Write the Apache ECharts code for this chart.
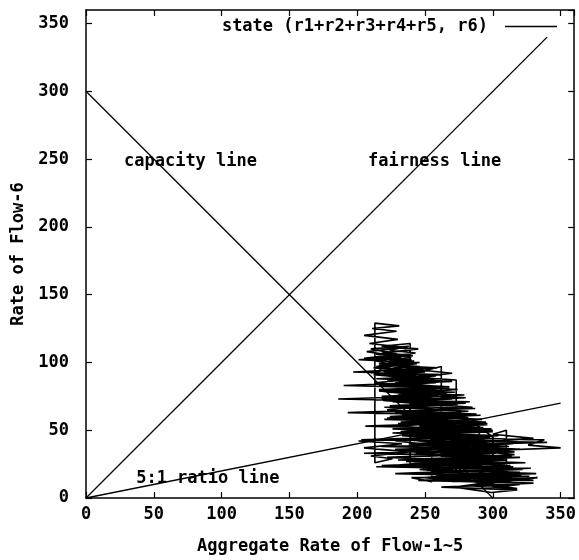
<!DOCTYPE html>
<html>
<head>
<meta charset="utf-8">
<script src="https://cdn.jsdelivr.net/npm/echarts@6/dist/echarts.min.js"></script>
<style>
html,body{margin:0;padding:0;background:#fff;}
#chart{width:579px;height:560px;}
</style>
</head>
<body>
<div id="chart"></div>
<script>
// ---- data ----
const xAxisTitle = 'Aggregate Rate of Flow-1~5';
const yAxisTitle = 'Rate of Flow-6';
const stateName = 'state (r1+r2+r3+r4+r5, r6)';
const tickValues = [0, 50, 100, 150, 200, 250, 300, 350];

const capacityLine = [[0, 300], [300, 0]];
const fairnessLine = [[0, 0], [340, 340]];
const ratioLine = [[0, 0], [350, 70]];

const lineLabels = [
  { name: 'capacity line', value: [28, 248] },
  { name: 'fairness line', value: [208, 248] },
  { name: '5:1 ratio line', value: [37, 14] }
];

// state trajectory (r1+...+r5, r6)
const statePoints = [
  [210,92],[232,97],[214,101],[233,104],[207,108],[236,111],[209,114],[230,117],[205,120],[229,123],
  [211,125],[231,127],[213,129],[213,26],[226,29],[210,31],[238,34],[205,37],[233,40],[201,42],
  [239,44],[239,114],[218,112],[245,110],[221,107],[241,105],
  [201,102],[246,100],[216,98],[259,96],[197,93],[262,91],[219,88],[270,86],[190,83],[268,81],
  [222,78],[279,76],[186,73],[283,71],[224,68],[287,66],[193,63],[291,61],[220,58],[295,56],
  [206,53],[299,51],[226,48],[304,46],[203,43],[340,41],[218,38],[310,36],[205,33],[314,31],
  [230,28],[318,26],[214,23],[322,21],[236,18],[327,16],[245,13],[330,11],[262,8],[318,6],[299,4],
  [272,8],[300,12],[262,14],[296,17],[255,20],[292,24],[248,27],[288,30],[243,33],[284,37],
  [238,40],[280,43],[233,46],[276,50],[229,53],[272,56],[226,59],[268,62],[222,65],[262,69],
  [219,72],[256,75],[216,79],[251,82],[213,85],[245,88],[212,91],[239,94],[214,97],[239,100],
  [239,25],[262,27],[226,24],[262,22],[262,97],[250,94],[270,92],[244,89],[273,87],[273,13],
  [250,15],[285,18],[246,21],[290,24],
  [236,28],[306,31],[240,35],[303,38],[244,42],[298,45],[236,48],[293,52],[241,55],[287,58],
  [233,61],[282,64],[238,67],[276,70],[230,73],[270,76],[235,79],[264,82],[228,85],[258,88],
  [232,91],[250,94],
  [225,90],[266,86],[221,83],[274,80],[230,77],[280,74],[226,71],[285,67],[234,64],[290,61],
  [229,58],[296,55],[240,52],[300,49],[235,46],[326,43],[338,43],[326,39],[350,37],[298,35],
  [246,33],[308,30],[240,27],[313,24],[253,21],[320,19],[258,16],[326,14],[270,12],[333,15],
  [282,9],[318,7],[290,11],
  [290,50],[265,48],[289,46],[254,43],[300,40],[257,37],[305,34],[262,31],[310,28],[252,25],
  [316,22],[266,19],[321,17],[275,14],[300,14],[300,45],[280,60],[250,58],[283,56],[246,53],
  [288,50],[249,47],[295,44],[255,41],[302,38],[228,36],[296,33],[222,30],[300,27],[218,24],
  [305,21],[228,18],[312,16],[240,15],[255,12],[255,60],
  [232,62],[262,65],[225,68],[270,70],[218,73],[260,76],[227,79],[266,81],[220,84],[252,86],
  [229,88],[256,91],[222,93],[244,96],[226,99],[240,102],[220,104],[243,107],[224,109],[238,112],
  [210,110],[230,106],[205,103],[228,100],[216,95],[235,88],[248,78],[248,40],[228,42],[270,45],
  [232,49],[274,52],[236,55],[279,57],[224,60],[276,63],
  [276,20],[300,22],[268,25],[306,27],[280,30],[316,32],[296,34],[320,36],[285,38],[315,40],
  [304,42],[330,44],[300,47],[310,50],[310,12],[292,15],[325,18],[280,20],[315,23],[275,26],
  [300,28],[300,8],[320,10],[296,13],[330,13],
  [262,15],[318,17],[255,19],[312,21],[250,23],[309,25],[236,27],[306,29],[242,31],[302,33],
  [232,35],[299,37],[238,39],[296,41],[228,43],[292,45],[234,47],[290,49],[226,51],[286,53],
  [230,55],[283,57],[222,59],[280,61],[228,63],[277,65],[220,67],[274,69],[226,71],[270,73],
  [218,75],[266,77],[224,79],[262,81],[216,83],[258,85],[222,87],[254,89],[214,91],[250,93],
  [220,95],[246,97],[216,99],[242,101],[212,103],[238,105],[218,107],[236,109],
  [214,106],[240,104],[224,101],[244,99],[212,96],[252,94],[226,92],[258,90],[214,88],[262,86],
  [230,84],[268,82],[216,80],[272,78],[236,76],[276,74],[220,72],[280,70],[240,68],[284,66],
  [226,64],[288,62],[244,60],[292,58],[232,56],[296,54],[250,52],[300,50],[238,48],[304,46],
  [256,44],[308,42],[244,40],[312,38],[262,36],[316,34],[250,32],[320,30],[268,28],[324,26],
  [256,24],[328,22],[274,20],[332,18],[262,16],[320,14],[284,12],[305,10]
];

// ---- chart ----
const FONT = '"DejaVu Sans Mono", "Liberation Mono", monospace';
const INK = '#000';
const chart = echarts.init(document.getElementById('chart'), null, { renderer: 'canvas' });

function axisCommon(extra) {
  return Object.assign({
    type: 'value', min: 0, max: 360, interval: 50,
    splitLine: { show: false },
    axisLine: { show: true, onZero: false, lineStyle: { color: '#000', width: 1.5 } },
    axisTick: { show: true, inside: true, length: 6, lineStyle: { color: '#000', width: 1.2 } }
  }, extra);
}

const labelFmt = v => (tickValues.indexOf(v) >= 0 ? String(v) : '');

chart.setOption({
  animation: false,
  backgroundColor: '#fff',
  grid: { left: 86, right: 3, top: 10, bottom: 59, containLabel: false },
  legend: {
    data: [stateName],
    right: 22, top: 18, padding: 0,
    align: 'right', icon: 'rect', itemWidth: 52, itemHeight: 1.5, itemGap: 0,
    textStyle: { fontFamily: FONT, fontWeight: 'bold', fontSize: 17, color: INK, padding: [0, 12, 0, 0] }
  },
  xAxis: [
    axisCommon({
      position: 'bottom',
      name: xAxisTitle, nameLocation: 'middle', nameGap: 40,
      nameTextStyle: { fontFamily: FONT, fontWeight: 'bold', fontSize: 17, color: INK },
      axisLabel: { show: true, margin: 8, formatter: labelFmt, showMaxLabel: false,
        fontFamily: FONT, fontWeight: 'bold', fontSize: 17, color: INK }
    }),
    axisCommon({ position: 'top', axisLabel: { show: false } })
  ],
  yAxis: [
    axisCommon({
      position: 'left',
      name: yAxisTitle, nameLocation: 'middle', nameGap: 54, nameRotate: 90,
      nameTextStyle: { fontFamily: FONT, fontWeight: 'bold', fontSize: 17, color: INK },
      axisLabel: { show: true, margin: 17, formatter: labelFmt, showMaxLabel: false,
        fontFamily: FONT, fontWeight: 'bold', fontSize: 17, color: INK }
    }),
    axisCommon({ position: 'right', axisLabel: { show: false } })
  ],
  series: [
    {
      name: stateName, type: 'line', data: statePoints, symbol: 'none',
      lineStyle: { color: '#000', width: 1.6 }, itemStyle: { color: '#000' }, z: 3
    },
    { name: 'capacity', type: 'line', data: capacityLine, symbol: 'none',
      lineStyle: { color: '#000', width: 1.3 }, z: 2 },
    { name: 'fairness', type: 'line', data: fairnessLine, symbol: 'none',
      lineStyle: { color: '#000', width: 1.3 }, z: 2 },
    { name: 'ratio', type: 'line', data: ratioLine, symbol: 'none',
      lineStyle: { color: '#000', width: 1.3 }, z: 2 },
    {
      name: 'labels', type: 'scatter', data: lineLabels, symbolSize: 0, z: 4,
      itemStyle: { opacity: 1 },
      label: {
        show: true, position: 'right', distance: 0, formatter: p => p.name,
        fontFamily: FONT, fontWeight: 'bold', fontSize: 17, color: '#000', opacity: 1
      }
    }
  ]
});
</script>
</body>
</html>
